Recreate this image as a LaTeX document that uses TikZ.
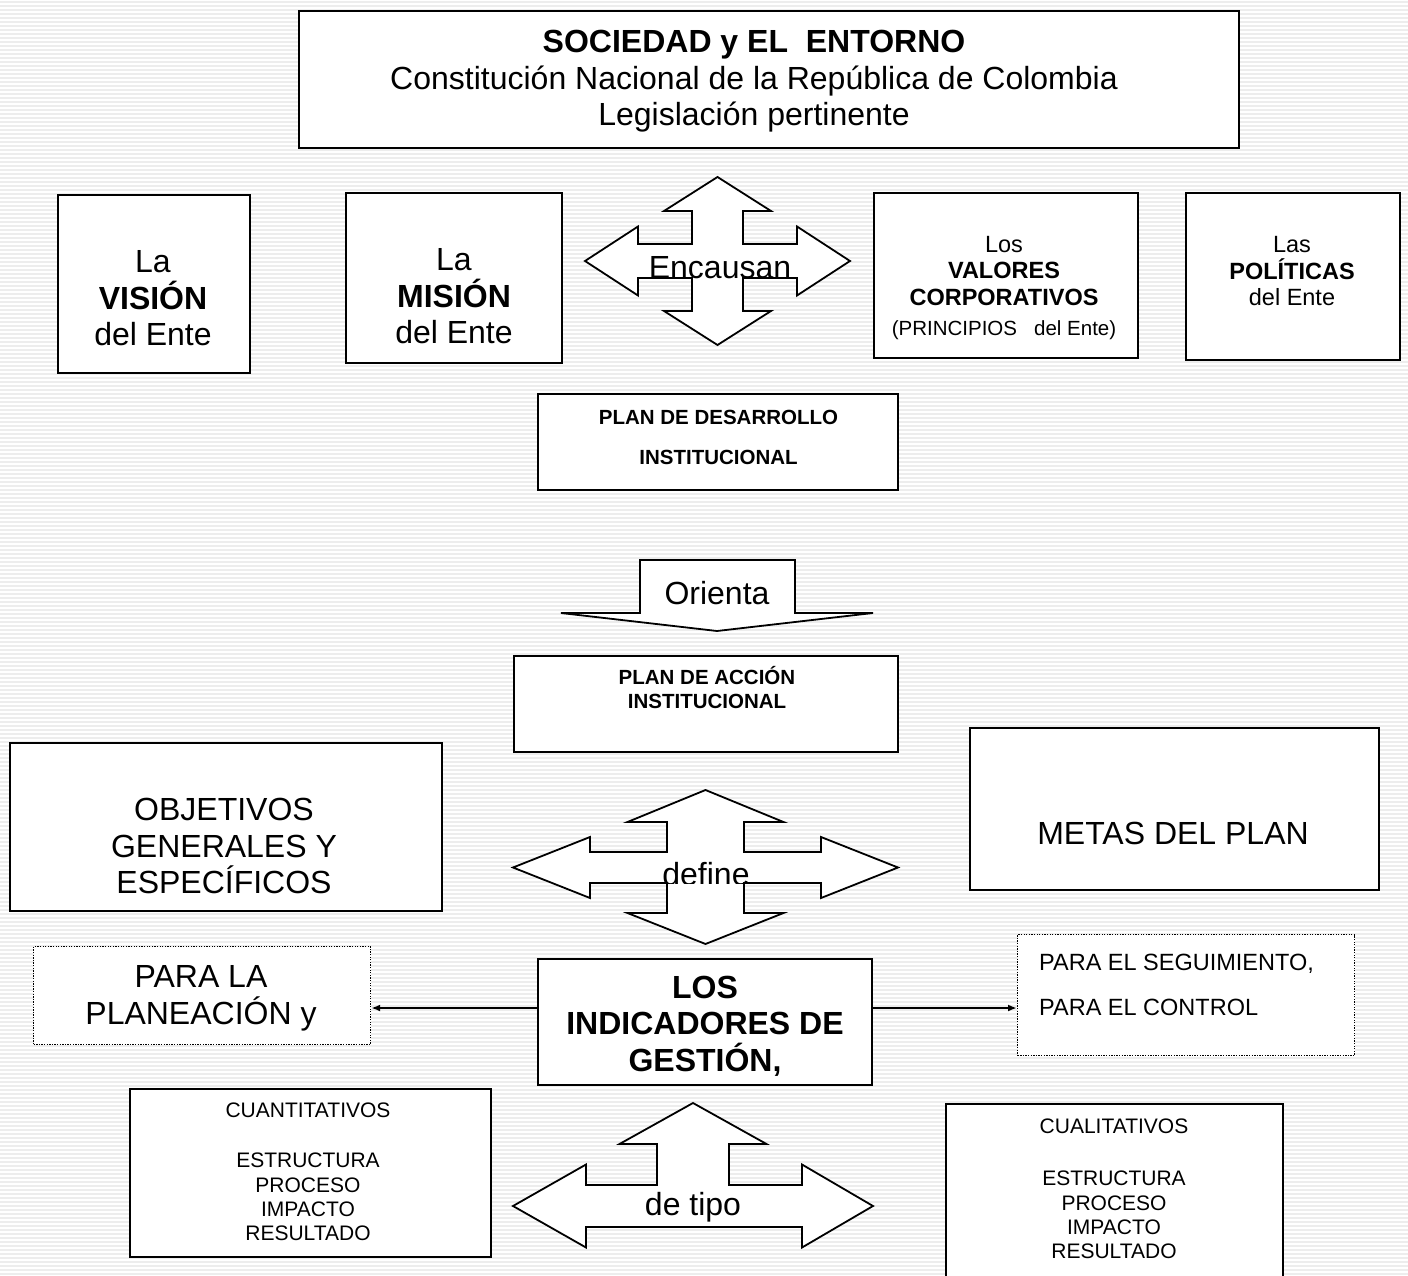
\documentclass[tikz,border=0pt]{standalone}
\usepackage{fontspec}
\setmainfont{Liberation Sans}
\usetikzlibrary{arrows.meta}
\newcommand\FntBig{\fontsize{32}{36.5}\selectfont}
\newcommand\FntMid{\fontsize{23.5}{26.5}\selectfont}
\newcommand\FntSm{\fontsize{20.5}{24}\selectfont}
\newcommand\FntTy{\fontsize{21}{24.3}\selectfont}
\tikzset{
  box/.style={draw=black, line width=1.8pt, fill=white, inner sep=0pt, anchor=north west},
  dotbox/.style={draw=black, line width=1.2pt, dash pattern=on 1.3pt off 1.3pt, fill=white, inner sep=0pt, anchor=north west},
  blk/.style={draw=black, line width=1.8pt, fill=white, line join=miter},
  txt/.style={inner sep=0pt, align=center, font=\FntBig},
  conn/.style={line width=1.8pt, -{Latex[length=9pt,width=7pt]}},
  stripe/.style={line width=1.6pt, draw=black!7}
}
\begin{document}
\begin{tikzpicture}[x=1pt,y=-1pt]
\useasboundingbox (0,0) rectangle (1408,1276);
\fill[white] (0,0) rectangle (1408,1276);
\foreach \yy in {2,6,...,1276} \draw[stripe] (0,\yy) -- (1408,\yy);

% ---------- boxes ----------
\node[box, minimum width=940pt, minimum height=137pt] (top) at (298,10) {};
\node[box, minimum width=192pt, minimum height=178pt] (vision) at (57,194) {};
\node[box, minimum width=216pt, minimum height=170pt] (mision) at (345,192) {};
\node[box, minimum width=264pt, minimum height=165pt] (valores) at (873,192) {};
\node[box, minimum width=214pt, minimum height=167pt] (politicas) at (1185,192) {};
\node[box, minimum width=360pt, minimum height=96pt] (desarrollo) at (537,393) {};
\node[box, minimum width=384pt, minimum height=96pt] (accion) at (513,655) {};
\node[box, minimum width=432pt, minimum height=168pt] (objetivos) at (9,742) {};
\node[box, minimum width=409pt, minimum height=162pt] (metas) at (969,727) {};
\node[box, minimum width=334pt, minimum height=126pt] (los) at (537,958) {};
\node[dotbox, minimum width=337pt, minimum height=98pt] (planea) at (33,946) {};
\node[dotbox, minimum width=337pt, minimum height=121pt] (segui) at (1017,934) {};
\node[box, minimum width=361pt, minimum height=168pt] (cuanti) at (129,1088) {};
\node[box, minimum width=337pt, minimum height=190pt] (cuali) at (945,1103) {};

% ---------- block arrows ----------
% Encausan (four-way)
\begin{scope}[shift={(717.5,261)}]
\draw[blk] (0,-84) -- (53.5,-50) -- (25.5,-50) -- (25.5,-17) -- (79.5,-17) -- (79.5,-34.5)
  -- (132.5,0) -- (79.5,34.5) -- (79.5,17) -- (25.5,17) -- (25.5,50) -- (53.5,50)
  -- (0,84) -- (-53.5,50) -- (-25.5,50) -- (-25.5,17) -- (-79.5,17) -- (-79.5,34.5)
  -- (-132.5,0) -- (-79.5,-34.5) -- (-79.5,-17) -- (-25.5,-17) -- (-25.5,-50) -- (-53.5,-50) -- cycle;
\end{scope}
% Orienta (down)
\draw[blk] (640,560) -- (795,560) -- (795,613) -- (873,613) -- (717,631) -- (561,613) -- (640,613) -- cycle;
% define (four-way)
\begin{scope}[shift={(705.5,867.5)}]
\draw[blk] (0,-77.5) -- (78,-45.5) -- (38.5,-45.5) -- (38.5,-15.5) -- (115.5,-15.5) -- (115.5,-30.5)
  -- (192.5,0) -- (115.5,30.5) -- (115.5,15.5) -- (38.5,15.5) -- (38.5,45.5) -- (78,45.5)
  -- (0,76.5) -- (-78,45.5) -- (-38.5,45.5) -- (-38.5,15.5) -- (-115.5,15.5) -- (-115.5,30.5)
  -- (-192.5,0) -- (-115.5,-30.5) -- (-115.5,-15.5) -- (-38.5,-15.5) -- (-38.5,-45.5) -- (-78,-45.5) -- cycle;
\end{scope}
% de tipo (up + left/right)
\begin{scope}[shift={(693,1206)}]
\draw[blk] (0,-103) -- (73.5,-62) -- (36,-62) -- (36,-21) -- (109,-21) -- (109,-41.5)
  -- (180,0) -- (109,41.5) -- (109,21) -- (-107,21) -- (-107,41.5)
  -- (-180,0) -- (-107,-41.5) -- (-107,-21) -- (-36,-21) -- (-36,-62) -- (-73.5,-62) -- cycle;
\end{scope}

% ---------- connectors ----------
\coordinate (lvl) at (0,1008);
\draw[conn] (los.west |- lvl) -- (planea.east |- lvl);
\draw[conn] (los.east |- lvl) -- (segui.west |- lvl);

% ---------- texts ----------
\node[txt] (topT) at (754,81.5) {\textbf{SOCIEDAD y EL\ \ ENTORNO}\\Constitución Nacional de la República de Colombia\\Legislación pertinente};
\node[txt] (visionT) at (153,298.5) {La\\\textbf{VISIÓN}\\del Ente};
\node[txt] (misionT) at (454,296.5) {La\\\textbf{MISIÓN}\\del Ente};
\node[txt, font=\FntMid] (valoresT) at (1004,288) {Los\\\textbf{VALORES}\\\textbf{CORPORATIVOS}\\[4pt]{\fontsize{20.5}{24}\selectfont(PRINCIPIOS\ \ \ del Ente)}};
\node[txt, font=\FntMid] (politicasT) at (1292,271.5) {Las\\\textbf{POLÍTICAS}\\del Ente};
\node[txt] (encausanT) at (720,268) {Encausan};
\node[txt, font=\fontsize{20.5}{40}\selectfont\bfseries] (desarrolloT) at (718.5,437) {PLAN DE DESARROLLO\\INSTITUCIONAL};
\node[txt] (orientaT) at (717,593) {Orienta};
\node[txt, font=\FntSm\bfseries] (accionT) at (707,688) {PLAN DE  ACCIÓN\\INSTITUCIONAL};
\node[txt] (objetivosT) at (224,846) {OBJETIVOS\\GENERALES Y\\ESPECÍFICOS};
\node[txt] (metasT) at (1173,833) {METAS DEL PLAN};
\begin{scope}
\clip (600,840) rectangle (820,883);
\node[txt, anchor=base] (defineT) at (706,885) {define};
\end{scope}
\node[txt, font=\FntBig\bfseries] (losT) at (705,1026) {LOS\\INDICADORES DE\\GESTIÓN,};
\node[txt] (planeaT) at (201,998.5) {PARA LA\\PLANEACIÓN y};
\node[txt, align=left, anchor=west, font=\fontsize{23.5}{45}\selectfont] (seguiT) at (1039,984.5) {PARA EL SEGUIMIENTO,\\PARA EL CONTROL};
\node[txt, anchor=base] (tipoT) at (693,1215) {de tipo};
\node[txt, font=\FntTy] (cuantiT) at (308,1172) {CUANTITATIVOS\\[26pt]ESTRUCTURA\\PROCESO\\IMPACTO\\RESULTADO};
\node[txt, font=\FntTy] (cualiT) at (1114,1189) {CUALITATIVOS\\[28pt]ESTRUCTURA\\PROCESO\\IMPACTO\\RESULTADO};
\end{tikzpicture}
\end{document}
